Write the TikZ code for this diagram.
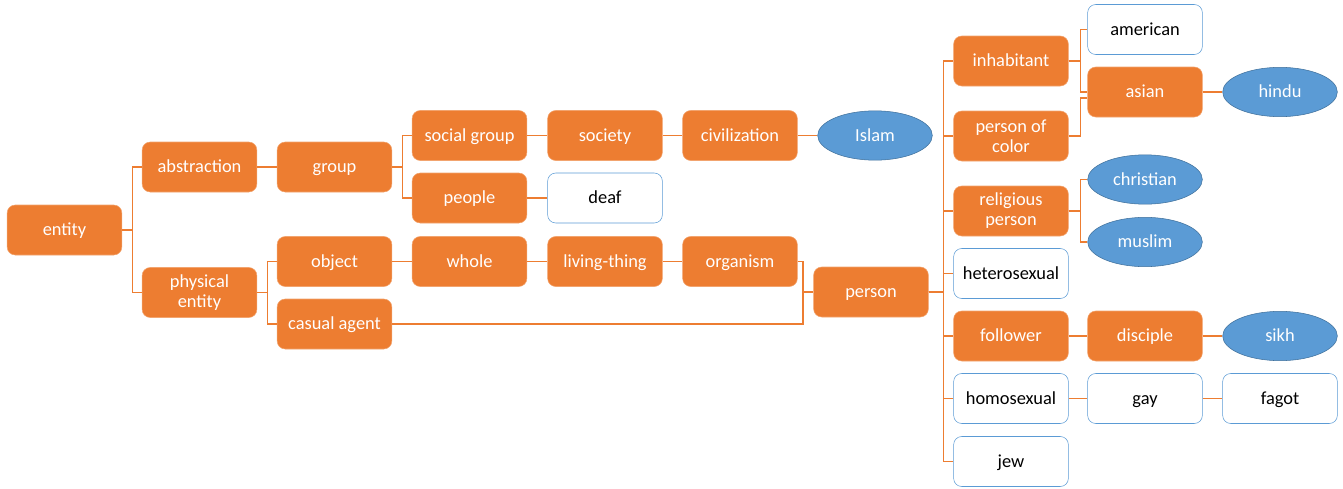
\documentclass[tikz,border=0pt]{standalone}
\usepackage{fontspec}
\setmainfont{Carlito}
\usetikzlibrary{calc,shapes.geometric}
\definecolor{synsetfill}{HTML}{ED7D31}
\definecolor{identfill}{HTML}{5B9BD5}
\definecolor{identedge}{HTML}{41719C}
\definecolor{edgeline}{HTML}{ED7D31}

\begin{document}
\begin{tikzpicture}[x=0.75pt,y=-0.75pt,
  base/.style={minimum width=86pt,minimum height=37.5pt,inner sep=1pt,
    align=center,font=\fontsize{13.8}{15}\selectfont,text height=10.5pt,text depth=2pt},
  twoline/.style={text height=,text depth=},
  synset/.style={base,rounded corners=6pt,fill=synsetfill,draw=synsetfill!70!white,text=white},
  wordbox/.style={base,rounded corners=6pt,fill=white,draw=identfill,text=black},
  identity/.style={base,ellipse,fill=identfill,draw=identedge,text=white,minimum height=37pt},
  link/.style={draw=edgeline,line width=0.8pt}]
  \useasboundingbox (0,0) rectangle (1343,489);

  % root and first levels
  \node[synset] (entity) at (64.5,230) {entity};
  \node[synset] (abstraction) at (199.5,167) {abstraction};
  \node[synset,twoline] (physical) at (199.5,292.5) {physical\\entity};
  \node[synset] (group) at (334.5,167) {group};
  \node[synset] (object) at (334.5,261.5) {object};
  \node[synset] (casual) at (334.5,324) {casual agent};

  % group branch
  \node[synset] (socialgroup) at (469.5,135.5) {social group};
  \node[synset] (people) at (469.5,198) {people};
  \node[synset] (society) at (605,135.5) {society};
  \node[synset] (civilization) at (740,135.5) {civilization};
  \node[identity] (islam) at (875,135.5) {Islam};
  \node[wordbox] (deaf) at (605,198) {deaf};

  % object branch
  \node[synset] (whole) at (469.5,261.5) {whole};
  \node[synset] (livingthing) at (605,261.5) {living-thing};
  \node[synset] (organism) at (740,261.5) {organism};
  \node[synset] (person) at (871,292) {person};

  % person children
  \node[synset] (inhabitant) at (1011,61) {inhabitant};
  \node[synset,twoline] (colored) at (1011,136) {person of\\color};
  \node[synset,twoline] (religious) at (1011,211) {religious\\person};
  \node[wordbox] (hetero) at (1011,273.5) {heterosexual};
  \node[synset] (follower) at (1011,336) {follower};
  \node[wordbox] (homo) at (1011,398.5) {homosexual};
  \node[wordbox] (jew) at (1011,461.5) {jew};

  % last levels
  \node[wordbox] (american) at (1145,29.5) {american};
  \node[synset] (asian) at (1145,92) {asian};
  \node[identity] (hindu) at (1280,92) {hindu};
  \node[identity] (christian) at (1145,179.5) {christian};
  \node[identity] (muslim) at (1145,242) {muslim};
  \node[synset] (disciple) at (1145,336) {disciple};
  \node[identity] (sikh) at (1280,336) {sikh};
  \node[wordbox] (gay) at (1145,398.5) {gay};
  \node[wordbox] (fagot) at (1280,398.5) {fagot};

  % connectors
  \draw[link] (entity.east) -- ++(10,0) |- (abstraction.west);
  \draw[link] (entity.east) -- ++(10,0) |- (physical.west);
  \draw[link] (abstraction) -- (group);
  \draw[link] (physical.east) -- ++(10,0) |- (object.west);
  \draw[link] (physical.east) -- ++(10,0) |- (casual.west);
  \draw[link] (group.east) -- ++(10,0) |- (socialgroup.west);
  \draw[link] (group.east) -- ++(10,0) |- (people.west);
  \draw[link] (socialgroup) -- (society);
  \draw[link] (society) -- (civilization);
  \draw[link] (civilization) -- (islam);
  \draw[link] (people) -- (deaf);
  \draw[link] (object) -- (whole);
  \draw[link] (whole) -- (livingthing);
  \draw[link] (livingthing) -- (organism);
  \coordinate (merge) at (803,292);
  \draw[link] (organism.east) -| (merge) -- (person.west);
  \draw[link] (casual.east) -| (merge);
  \foreach \kid in {inhabitant,colored,religious,hetero,follower,homo,jew}
    \draw[link] (person.east) -- ++(15,0) |- (\kid.west);
  \draw[link] (inhabitant.east) -- ++(12,0) |- (american.west);
  \draw[link] (inhabitant.east) -- ++(12,0) |- (asian.west);
  \draw[link] (colored.east) -- ++(12,0) |- ($(asian.west)+(0,6)$);
  \draw[link] (asian) -- (hindu);
  \draw[link] (religious.east) -- ++(12,0) |- (christian.west);
  \draw[link] (religious.east) -- ++(12,0) |- (muslim.west);
  \draw[link] (follower) -- (disciple);
  \draw[link] (disciple) -- (sikh);
  \draw[link] (homo) -- (gay);
  \draw[link] (gay) -- (fagot);
\end{tikzpicture}
\end{document}
